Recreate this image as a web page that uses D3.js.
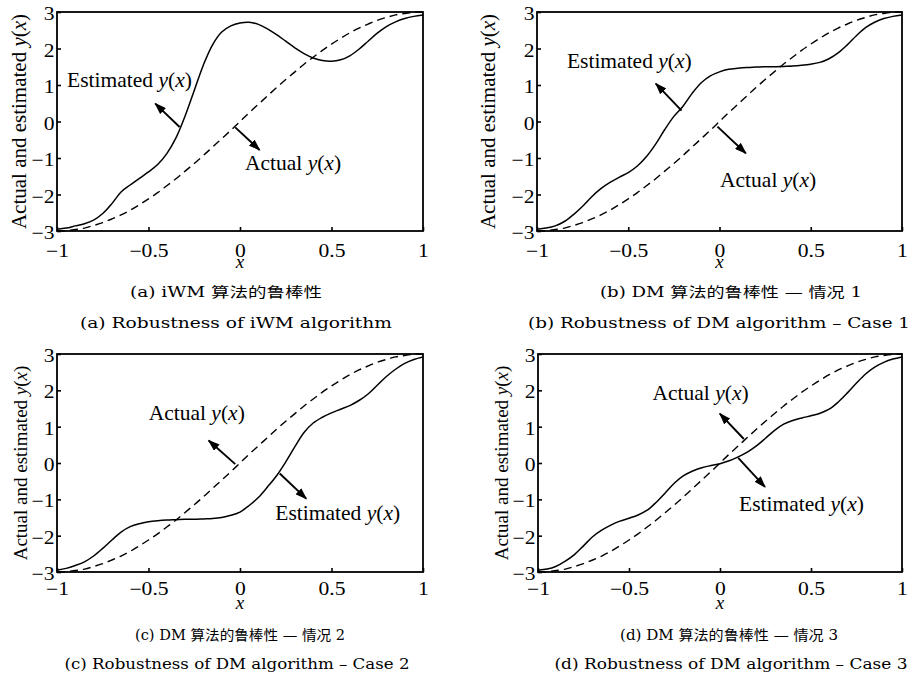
<!DOCTYPE html>
<html>
<head>
<meta charset="utf-8">
<title>Robustness of iWM and DM algorithms</title>
<style>
	body { margin: 0; background: #fff; }
	svg { display: block; }
	.frame { fill: none; stroke: #000; stroke-width: 1.8px; }
	.actual { fill: none; stroke: #000; stroke-width: 1.4px; stroke-dasharray: 8,5; }
	.estimated { fill: none; stroke: #000; stroke-width: 1.5px; }
	.arrow { stroke: #000; stroke-width: 1.9px; }
	.note, .ylabel, .xlabel { font-family: "Liberation Serif", "Times New Roman", serif; fill: #000; }
	.caption { font-family: "DejaVu Serif", "Noto Sans CJK SC", serif; fill: #000; }
</style>
<script src="https://d3js.org/d3.v7.min.js"></script>
</head>
<body>
<script>
	// sample grid along x
	var xs = [-1, -0.95, -0.9, -0.85, -0.8, -0.75, -0.7, -0.65, -0.6, -0.55, -0.5,
		-0.45, -0.4, -0.35, -0.3, -0.25, -0.2, -0.15, -0.1, -0.05, 0,
		0.05, 0.1, 0.15, 0.2, 0.25, 0.3, 0.35, 0.4, 0.45, 0.5,
		0.55, 0.6, 0.65, 0.7, 0.75, 0.8, 0.85, 0.9, 0.95, 1];

	// dashed curve, same in all four panels
	var actualY = [-3.00, -2.99, -2.96, -2.92, -2.85, -2.77, -2.67, -2.56, -2.43, -2.28, -2.12,
		-1.95, -1.76, -1.57, -1.36, -1.15, -0.93, -0.70, -0.47, -0.24, 0,
		0.24, 0.47, 0.70, 0.93, 1.15, 1.36, 1.57, 1.76, 1.95, 2.12,
		2.28, 2.43, 2.56, 2.67, 2.77, 2.85, 2.92, 2.96, 2.99, 3.00];

	// solid curves, one per panel
	var estIWM = [-2.95, -2.92, -2.86, -2.80, -2.70, -2.52, -2.25, -1.93, -1.74, -1.56, -1.38,
		-1.18, -0.88, -0.45, 0.15, 0.85, 1.55, 2.10, 2.45, 2.62, 2.70,
		2.72, 2.66, 2.54, 2.38, 2.20, 2.02, 1.86, 1.74, 1.67, 1.65,
		1.69, 1.80, 1.98, 2.20, 2.42, 2.60, 2.73, 2.82, 2.88, 2.92];
	var estCase1 = [-2.95, -2.92, -2.86, -2.74, -2.55, -2.32, -2.06, -1.84, -1.67, -1.53, -1.40,
		-1.22, -0.96, -0.62, -0.22, 0.14, 0.42, 0.77, 1.06, 1.25, 1.36,
		1.43, 1.46, 1.48, 1.49, 1.50, 1.50, 1.51, 1.52, 1.54, 1.57,
		1.62, 1.72, 1.88, 2.10, 2.35, 2.57, 2.72, 2.82, 2.88, 2.92];
	var estCase2 = [-2.95, -2.90, -2.82, -2.72, -2.56, -2.35, -2.12, -1.90, -1.75, -1.67, -1.62,
		-1.59, -1.57, -1.56, -1.55, -1.55, -1.54, -1.53, -1.50, -1.44, -1.35,
		-1.17, -0.95, -0.66, -0.35, 0.03, 0.45, 0.84, 1.10, 1.26, 1.38,
		1.48, 1.58, 1.72, 1.90, 2.14, 2.38, 2.58, 2.74, 2.85, 2.92];
	var estCase3 = [-2.95, -2.92, -2.84, -2.70, -2.52, -2.28, -2.03, -1.85, -1.71, -1.60, -1.52,
		-1.43, -1.30, -1.08, -0.82, -0.55, -0.35, -0.22, -0.13, -0.07, -0.02,
		0.06, 0.17, 0.30, 0.47, 0.68, 0.90, 1.07, 1.17, 1.24, 1.30,
		1.37, 1.48, 1.68, 1.93, 2.20, 2.45, 2.64, 2.77, 2.86, 2.92];

	var xTicks = [-1, -0.5, 0, 0.5, 1];
	var yTicks = [-3, -2, -1, 0, 1, 2, 3];

	var captionsZh = ["(a) iWM 算法的鲁棒性", "(b) DM 算法的鲁棒性 — 情况 1",
		"(c) DM 算法的鲁棒性 — 情况 2", "(d) DM 算法的鲁棒性 — 情况 3"];
	var captionsEn = ["(a) Robustness of iWM algorithm", "(b) Robustness of DM algorithm – Case 1",
		"(c) Robustness of DM algorithm – Case 2", "(d) Robustness of DM algorithm – Case 3"];

	// annotation arrows in data units: [fromX, fromY, toX, toY], and label start points
	var estArrows = [[-0.33, -0.15, -0.463, 0.49], [-0.208, 0.30, -0.349, 1.04],
		[0.217, -0.29, 0.362, -0.98], [0.10, 0.14, 0.247, -0.66]];
	var actArrows = [[-0.026, -0.16, 0.107, -0.78], [-0.011, -0.14, 0.144, -0.87],
		[-0.026, -0.03, -0.171, 0.62], [0.131, 0.66, -0.001, 1.36]];
	var estLabels = [[-0.945, 0.95], [-0.836, 1.47], [0.193, -1.58], [0.105, -1.32]];
	var actLabels = [[0.027, -1.33], [0.003, -1.79], [-0.499, 1.19], [-0.371, 1.73]];

	var estimates = [estIWM, estCase1, estCase2, estCase3];

	// page layout of the four panels
	var panels = [
		{left: 57, right: 423, top: 12, bottom: 231, ylabX: 26, ylabSize: 21, xPad: 13, xlabDy: 37,
			cap: [226, 297, 192], capEn: [236, 328, 312]},
		{left: 537, right: 902, top: 12, bottom: 231, ylabX: 495, ylabSize: 21, xPad: 13, xlabDy: 37,
			cap: [731, 297, 262], capEn: [719, 328, 382]},
		{left: 57, right: 423, top: 354, bottom: 572, ylabX: 27, ylabSize: 19, xPad: 10, xlabDy: 37,
			cap: [240, 640, 210], capEn: [237, 669, 345]},
		{left: 538, right: 902, top: 354, bottom: 572, ylabX: 508, ylabSize: 19, xPad: 10, xlabDy: 37,
			cap: [729, 640, 218], capEn: [731, 669, 353]}
	];

	var svg = d3.select("body").append("svg")
		.attr("width", 917)
		.attr("height", 675);

	var defs = svg.append("defs");
	defs.append("marker")
		.attr("id", "head")
		.attr("viewBox", "0 0 10 7")
		.attr("markerWidth", 12)
		.attr("markerHeight", 8.4)
		.attr("markerUnits", "userSpaceOnUse")
		.attr("refX", 9)
		.attr("refY", 3.5)
		.attr("orient", "auto")
		.append("path")
		.attr("d", "M0,0L10,3.5L0,7z")
		.attr("fill", "#000");

	var fmt = function(d) { return d < 0 ? "\u2212" + Math.abs(d) : String(d); };

	function addLabel(sel, word) {
		sel.append("tspan").text(word + " ");
		sel.append("tspan").attr("font-style", "italic").text("y");
		sel.append("tspan").text("(");
		sel.append("tspan").attr("font-style", "italic").text("x");
		sel.append("tspan").text(")");
	}

	panels.forEach(function(p, i) {
		var x = d3.scaleLinear().domain([-1, 1]).range([p.left, p.right]);
		var y = d3.scaleLinear().domain([-3, 3]).range([p.bottom, p.top]);

		var g = svg.append("g").attr("class", "panel");

		defs.append("clipPath").attr("id", "clip" + i)
			.append("rect")
			.attr("x", p.left).attr("y", p.top - 1)
			.attr("width", p.right - p.left).attr("height", p.bottom - p.top + 2);

		var line = d3.line()
			.x(function(d) { return x(d[0]); })
			.y(function(d) { return y(d[1]); })
			.curve(d3.curveCatmullRom.alpha(0.5));

		g.append("path")
			.attr("class", "actual")
			.attr("clip-path", "url(#clip" + i + ")")
			.attr("d", line(d3.zip(xs, actualY)));

		g.append("path")
			.attr("class", "estimated")
			.attr("clip-path", "url(#clip" + i + ")")
			.attr("d", line(d3.zip(xs, estimates[i])));

		// axes with inward ticks, frame drawn separately
		var ax = g.append("g")
			.attr("transform", "translate(0," + p.bottom + ")")
			.call(d3.axisBottom(x).tickValues(xTicks).tickFormat(fmt)
				.tickSizeInner(-4).tickSizeOuter(0).tickPadding(p.xPad));
		var ay = g.append("g")
			.attr("transform", "translate(" + p.left + ",0)")
			.call(d3.axisLeft(y).tickValues(yTicks).tickFormat(fmt)
				.tickSizeInner(-4).tickSizeOuter(0).tickPadding(2));
		[ax, ay].forEach(function(a) {
			a.select(".domain").remove();
			a.attr("font-family", "'Liberation Serif', 'Times New Roman', serif").attr("font-size", 18);
			a.selectAll("line").attr("stroke-width", 1.6);
			// the printed figure is a little wider than tall
			a.selectAll("text").attr("fill", "#000").attr("transform", "scale(1.2,1)");
		});
		ay.selectAll("text").attr("dy", "0.42em");

		g.append("rect")
			.attr("class", "frame")
			.attr("x", p.left).attr("y", p.top)
			.attr("width", p.right - p.left).attr("height", p.bottom - p.top);

		// axis titles
		g.append("text")
			.attr("class", "xlabel")
			.attr("x", (p.left + p.right) / 2)
			.attr("y", p.bottom + p.xlabDy)
			.attr("text-anchor", "middle")
			.attr("font-size", 19)
			.attr("font-style", "italic")
			.text("x");

		var yl = g.append("text")
			.attr("class", "ylabel")
			.attr("transform", "translate(" + p.ylabX + "," + (p.top + p.bottom) / 2 + ") rotate(-90)")
			.attr("text-anchor", "middle")
			.attr("font-size", p.ylabSize);
		addLabel(yl, "Actual and estimated");

		// arrows and their labels
		[estArrows[i], actArrows[i]].forEach(function(a) {
			g.append("line")
				.attr("class", "arrow")
				.attr("x1", x(a[0])).attr("y1", y(a[1]))
				.attr("x2", x(a[2])).attr("y2", y(a[3]))
				.attr("marker-end", "url(#head)");
		});
		var el = g.append("text").attr("class", "note").attr("font-size", 21.5)
			.attr("x", x(estLabels[i][0])).attr("y", y(estLabels[i][1]));
		addLabel(el, "Estimated");
		var al = g.append("text").attr("class", "note").attr("font-size", 21.5)
			.attr("x", x(actLabels[i][0])).attr("y", y(actLabels[i][1]));
		addLabel(al, "Actual");

		// captions
		g.append("text")
			.attr("class", "caption")
			.attr("x", p.cap[0]).attr("y", p.cap[1])
			.attr("text-anchor", "middle")
			.attr("font-size", 14)
			.attr("textLength", p.cap[2])
			.attr("lengthAdjust", "spacingAndGlyphs")
			.text(captionsZh[i]);
		g.append("text")
			.attr("class", "caption")
			.attr("x", p.capEn[0]).attr("y", p.capEn[1])
			.attr("text-anchor", "middle")
			.attr("font-size", 14)
			.attr("textLength", p.capEn[2])
			.attr("lengthAdjust", "spacingAndGlyphs")
			.text(captionsEn[i]);
	});
</script>
</body>
</html>
